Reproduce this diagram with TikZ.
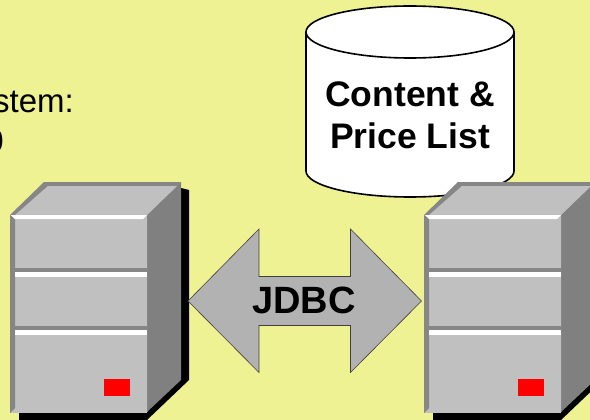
\documentclass[tikz,border=0pt]{standalone}
\usepackage{xcolor}
\usepackage{fontspec}
\setmainfont{Liberation Sans}
\usepackage{tikz}
\usetikzlibrary{positioning}
\definecolor{paper}{HTML}{EFF292}
\definecolor{boxface}{HTML}{C0C0C0}
\definecolor{boxedge}{HTML}{868686}
\definecolor{boxside}{HTML}{808080}
\definecolor{linkfill}{HTML}{B2B2B2}
\tikzstyle{face} = [fill=boxface]
\tikzstyle{edge} = [fill=boxedge]
\tikzstyle{light} = [fill=white]
\tikzstyle{label} = [font=\fontsize{35.5}{42}\selectfont\bfseries, align=center, inner sep=0pt]
\tikzstyle{plain} = [font=\fontsize{33}{38}\selectfont, inner sep=0pt]
\tikzstyle{store} = [draw=black, line width=1.6pt, fill=white]
\tikzstyle{link} = [draw=black!75, line width=0.6pt, fill=linkfill]

\begin{document}
\begin{tikzpicture}[x=1pt, y=-1pt]

  % Background
  \useasboundingbox (0,0) rectangle (590,420);
  \fill[paper] (0,0) rectangle (590,420);

  % Text cut by the left side
  \node (system) [plain, anchor=base east] at (74,113) {stem:};
  \node (version) [plain, anchor=base east] at (4,153) {0};

  % Database
  \draw[store] (306,32) -- (306,171) arc[start angle=180, end angle=0, x radius=104, y radius=26] -- (514,32);
  \draw[store] (410,32) ellipse [x radius=104, y radius=26];
  \node (content) [label] at (410,115) {Content \&\\Price List};

  % Servers
  \foreach \sx in {0,414} {
    \begin{scope}[xshift=\sx pt]
      \fill[black] (19,412) -- (19,420) -- (147,420) -- (189,380) -- (189,190) -- (181,188) -- cycle;
      \fill[boxside] (147,215) -- (181,182) -- (181,380) -- (147,412) -- cycle;
      \fill[edge] (10,215) -- (44,182) -- (181,182) -- (147,215) -- cycle;
      \fill[face] (15,215) -- (48,186) -- (177,186) -- (147,215) -- cycle;
      \fill[face] (10,215) rectangle (147,413);
      \fill[edge] (10,215) -- (15,219) -- (15,408) -- (10,413) -- cycle;
      \fill[light] (11,215) -- (147,215) -- (143,219) -- (15,219) -- cycle;
      \fill[edge] (147,215) rectangle (148,412);
      \fill[edge] (10,268) rectangle (147,272);
      \fill[light] (15,272) rectangle (147,277);
      \fill[edge] (10,326) rectangle (147,330);
      \fill[light] (15,330) rectangle (147,335);
      \fill[red] (104,379) rectangle (130,396);
    \end{scope}
  }

  % Link between servers
  \draw[link] (188,301) -- (259,229) -- (259,276.5) -- (350.5,276.5) -- (350.5,229) -- (421.5,301)
    -- (350.5,372.5) -- (350.5,325.5) -- (259,325.5) -- (259,372.5) -- cycle;
  \node (jdbc) [label, font=\fontsize{38}{42}\selectfont\bfseries] at (304,300) {JDBC};

\end{tikzpicture}
\end{document}
